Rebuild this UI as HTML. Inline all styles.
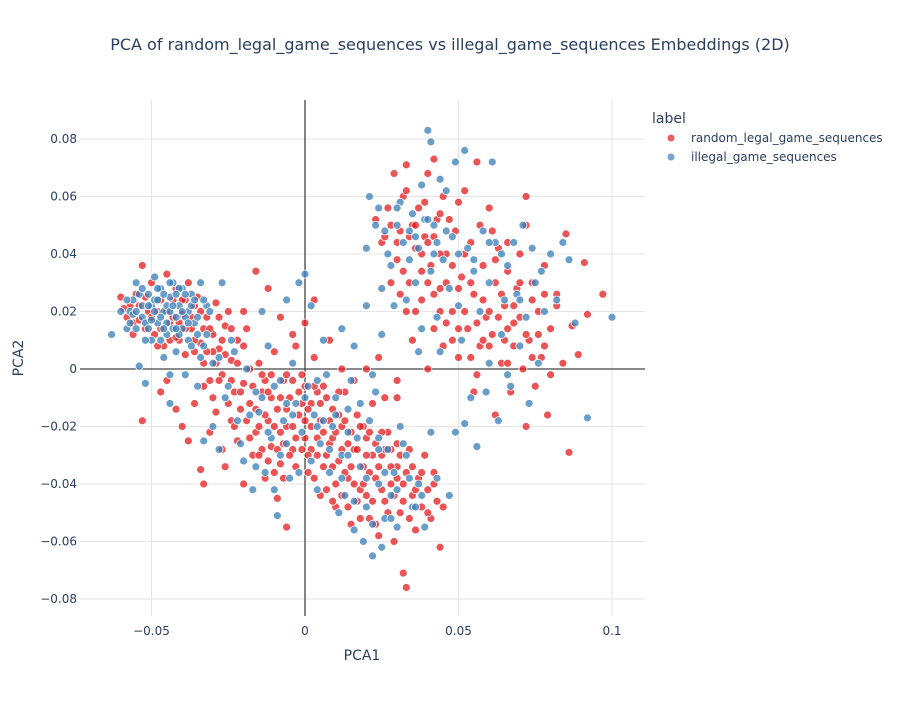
<!DOCTYPE html>
<html><head><meta charset="utf-8">
<style>
body{margin:0;background:#fff;}
svg text{font-family:"DejaVu Sans","Liberation Sans",sans-serif;fill:#2a3f5f;}
</style></head>
<body>
<svg id="chart" width="900" height="700" xmlns="http://www.w3.org/2000/svg">
<rect width="900" height="700" fill="#fff"/>
<text x="450" y="50" text-anchor="middle" font-size="16">PCA of random_legal_game_sequences vs illegal_game_sequences Embeddings (2D)</text>
<g id="grid"></g>
<g id="plot"></g>
<g id="axes"></g>
<text x="362" y="660" text-anchor="middle" font-size="14">PCA1</text>
<text x="23" y="358" text-anchor="middle" font-size="14" transform="rotate(-90 23 358)">PCA2</text>
<g>
<text x="652" y="123" font-size="14">label</text>
<g>
<circle cx="671" cy="138" r="3.5" fill="#E41A1C" fill-opacity="0.7"/>
<text x="691" y="142" font-size="12">random_legal_game_sequences</text></g>
<g>
<circle cx="671" cy="157" r="3.5" fill="#377EB8" fill-opacity="0.7"/>
<text x="691" y="161" font-size="12">illegal_game_sequences</text></g>
</g>
</svg>
<script>
// values in units of 0.001
const legalPts = [[-60,25],[-58,18],[-57,22],[-55,26],[-53,36],[-52,14],[-50,30],[-49,12],[-48,20],[-46,8],[-45,33],[-44,16],[-43,24],[-42,28],[-41,10],[-40,19],[-39,5],[-38,30],[-37,14],[-36,22],[-35,25],[-34,9],[-33,2],[-32,18],[-31,-4],[-30,12],[-29,23],[-28,7],[-27,-2],[-26,15],[-25,20],[-24,3],[-23,-8],[-22,10],[-53,-18],[-47,-8],[-45,-4],[-42,-14],[-40,-20],[-38,-25],[-36,-12],[-34,-35],[-33,-40],[-31,-22],[-29,-15],[-27,-28],[-26,-34],[-24,-18],[-22,-25],[-20,-5],[-19,14],[-18,-12],[-17,-30],[-16,-22],[-15,2],[-14,-8],[-13,-38],[-12,-18],[-11,-27],[-10,6],[-9,-14],[-9,-45],[-8,-33],[-7,-4],[-6,-20],[-5,-10],[-4,-28],[-3,8],[-2,-16],[-1,-2],[0,-24],[1,-36],[2,-12],[3,4],[4,-30],[5,-18],[6,-6],[7,-42],[8,-26],[9,-14],[10,-48],[11,-32],[12,-20],[13,-8],[14,-38],[15,-54],[16,-28],[17,-16],[18,-42],[19,-34],[20,-24],[21,-52],[22,-12],[23,-38],[24,-58],[25,-30],[26,-46],[27,-22],[28,-40],[29,-60],[30,-34],[31,-50],[32,-71],[33,-76],[34,-28],[35,-44],[36,-56],[37,-38],[38,-48],[39,-30],[40,-42],[41,-52],[42,-36],[44,-62],[45,-48],[-6,-55],[-20,-40],[-16,34],[-12,28],[-8,18],[-4,12],[0,16],[3,24],[8,10],[12,0],[16,-4],[20,0],[24,4],[26,-10],[30,-4],
[-56,16],[-54,22],[-51,20],[-47,24],[-44,10],[-41,16],[-39,24],[-36,6],[-33,14],[-30,6],[-27,10],[-24,-4],[-21,-14],[-18,0],[-15,-20],[-13,-4],[-11,-10],[-8,-22],[-6,-2],[-3,-24],[-1,-12],[2,-28],[4,-8],[6,-34],[9,-24],[11,-16],[14,-26],[17,-46],[19,-20],[22,-30],[25,-22],[28,-28],[32,-40],[35,-34],[-20,20],[-14,-28],[-10,-36],[10,-40],[20,-44],[30,-26],
[-59,21],[-56,12],[-54,17],[-52,25],[-50,18],[-48,8],[-47,14],[-45,20],[-43,18],[-42,11],[-40,24],[-39,14],[-37,18],[-36,10],[-34,20],[-33,-6],[-32,6],[-31,14],[-30,-10],[-29,2],[-28,18],[-28,-4],[-26,5],[-25,-12],[-24,14],[-23,-20],[-22,2],[-21,-8],[-20,8],[-19,-18],[-18,-24],[-17,-6],[-16,-14],[-15,-30],[-14,-2],[-13,-16],[-12,-8],[-12,-32],[-11,-2],[-10,-20],[-9,-28],[-8,-10],[-7,-26],[-7,-38],[-6,-14],[-5,-30],[-4,-4],[-4,-20],[-3,-34],[-2,-8],[-1,-28],[0,-18],[0,-6],[1,-14],[1,-30],[2,-20],[3,-6],[3,-38],[4,-24],[5,-12],[5,-44],[6,-22],[7,-30],[7,-10],[8,-18],[9,-34],[9,-46],[10,-22],[11,-8],[12,-28],[12,-44],[13,-36],[13,-18],[14,-48],[15,-22],[15,-34],[16,-40],[17,-28],[18,-20],[18,-52],[19,-40],[20,-30],[21,-36],[21,-22],[22,-46],[23,-26],[23,-54],[24,-34],[25,-42],[26,-28],[27,-50],[28,-34],[29,-44],[30,-38],[31,-30],[32,-46],[33,-36],[34,-52],[36,-42],[38,-36],[40,-50],[42,-40],[43,-46],
[23,52],[25,44],[27,56],[29,68],[30,38],[31,48],[32,60],[33,71],[34,30],[35,50],[36,42],[37,56],[38,24],[39,46],[40,68],[41,36],[42,73],[43,52],[44,28],[45,60],[46,40],[48,20],[49,48],[50,4],[51,32],[52,62],[53,14],[54,44],[55,26],[56,72],[57,8],[58,36],[59,18],[60,56],[61,12],[62,30],[63,42],[64,2],[65,22],[66,34],[67,-8],[68,16],[69,28],[70,40],[71,0],[72,60],[73,10],[74,24],[75,-6],[76,20],[77,4],[78,36],[79,-16],[80,14],[82,26],[84,2],[85,47],[86,-29],[87,15],[89,5],[91,37],[92,19],[97,26],[72,-20],[35,10],[30,-10],[40,0],[45,8],[33,20],[28,30],[55,-8],[62,-16],[80,-2],[82,22],[38,40],[42,46],[47,52],[52,20],[58,24],[63,18],[68,8],[74,30],
[26,46],[28,50],[30,44],[32,34],[34,46],[36,50],[38,34],[40,44],[42,26],[44,40],[46,30],[48,36],[50,28],[52,40],[54,30],[56,16],[58,10],[60,20],[62,38],[64,26],[66,14],[68,22],[70,30],[72,12],[74,4],[76,12],[78,26],[42,14],[36,20],[46,16],
[33,62],[39,58],[44,54],[50,58],[57,50],[61,48],[66,44],[72,50],[31,26],[40,30],[48,10],[54,4],[60,8],[65,10],[70,18],[56,-2],[66,2],[78,8],[44,20],[50,14]];
const illegalPts = [[-63,12],[-60,20],[-58,14],[-56,24],[-55,30],[-54,1],[-53,18],[-52,-5],[-51,26],[-50,10],[-50,22],[-49,32],[-48,16],[-47,28],[-46,4],[-46,20],[-45,12],[-44,25],[-44,-12],[-43,30],[-42,18],[-42,6],[-41,22],[-40,14],[-40,28],[-39,-2],[-38,20],[-38,10],[-37,26],[-36,16],[-35,-6],[-34,30],[-33,8],[-33,-25],[-32,22],[-30,-20],[-30,2],[-28,-28],[-27,30],[-26,-10],[-24,10],[-22,-18],[-20,-32],[-19,0],[-17,-42],[-15,-15],[-14,20],[-13,-36],[-12,8],[-11,-24],[-10,-6],[-9,-51],[-8,-30],[-7,-18],[-6,24],[-5,-38],[-4,2],[-3,-12],[-2,30],[-1,-22],[0,33],[1,-6],[2,22],[3,-16],[4,-42],[5,-26],[6,10],[7,-2],[8,-36],[9,-20],[10,-10],[11,-50],[12,-30],[13,-44],[14,-14],[15,-4],[16,-56],[17,-24],[18,-34],[19,-60],[20,-48],[21,-18],[22,-65],[23,-8],[24,-40],[25,-62],[26,-52],[27,-28],[28,-44],[29,-36],[30,-55],[31,-20],[33,-30],[35,-48],[37,-40],[39,-55],[41,-22],[43,-38],[47,-44],[49,-22],[20,22],[16,8],[12,14],[22,-2],[25,12],
[-57,20],[-54,26],[-52,16],[-49,24],[-47,18],[-45,22],[-43,14],[-41,28],[-39,18],[-37,22],[-35,12],[-48,28],[-52,10],[-44,-2],[-16,-8],[-6,-12],[4,-20],[14,-30],[24,-24],
[-58,24],[-56,19],[-55,14],[-53,22],[-53,28],[-51,14],[-50,17],[-49,20],[-48,24],[-47,10],[-46,26],[-45,16],[-44,20],[-43,22],[-42,26],[-41,12],[-40,20],[-39,26],[-38,16],[-37,8],[-36,24],[-35,18],[-34,4],[-33,24],[-32,12],[-31,20],[-46,14],[-44,30],[-42,14],[-51,22],[-55,20],[-57,16],
[-28,4],[-25,-6],[-23,6],[-21,-26],[-18,-16],[-16,-34],[-14,-10],[-12,-22],[-10,-42],[-8,-4],[-6,-26],[-4,-16],[-2,-36],[0,-10],[2,-32],[4,-4],[6,-18],[8,-28],[10,-16],[12,-38],[14,-22],[16,-46],[18,-12],[20,-38],[22,-54],[24,-28],[26,-36],[28,-52],[30,-42],[32,-26],[34,-38],[36,-48],[38,-44],
[20,42],[21,60],[23,50],[24,56],[25,28],[26,48],[27,40],[28,36],[29,22],[30,50],[31,58],[32,44],[33,24],[34,38],[35,54],[36,46],[37,6],[38,64],[39,52],[40,83],[41,79],[41,34],[42,50],[43,18],[44,66],[45,38],[46,62],[47,28],[48,46],[49,72],[50,22],[51,10],[52,76],[53,42],[54,-10],[55,34],[56,-27],[57,20],[58,48],[59,-8],[60,30],[61,72],[62,44],[63,-18],[64,12],[65,24],[66,36],[67,-6],[68,44],[69,26],[70,8],[71,50],[72,18],[73,-12],[74,42],[75,30],[76,2],[77,34],[78,20],[80,40],[82,24],[84,44],[86,38],[88,16],[92,-17],[100,18],[52,-19],[44,6],[38,14],[60,2],[66,-2],
[30,56],[34,48],[37,42],[40,52],[43,44],[46,48],[50,40],[55,38],[60,44],[64,40],[70,24],[36,30],[42,40]];
const xTicks = [-0.05, 0, 0.05, 0.1];
const xTickLabels = ["−0.05", "0", "0.05", "0.1"];
const yTicks = [-0.08, -0.06, -0.04, -0.02, 0, 0.02, 0.04, 0.06, 0.08];
const yTickLabels = ["−0.08", "−0.06", "−0.04", "−0.02", "0", "0.02", "0.04", "0.06", "0.08"];

const L = 80, R = 645, T = 100, B = 616;
const xScale = v => 305 + v * 3070;
const yScale = v => 369 - v * 2875;
const NS = "http://www.w3.org/2000/svg";
function mk(tag, attrs, parent){ const e = document.createElementNS(NS, tag); for (const k in attrs) e.setAttribute(k, attrs[k]); parent.appendChild(e); return e; }
const grid = document.getElementById('grid'), axes = document.getElementById('axes'), plot = document.getElementById('plot');

xTicks.forEach((t, i) => {
  const x = xScale(t);
  if (t !== 0) { const g = mk('line', {x1:x, x2:x, y1:T, y2:B, stroke:'#e5e5e5', 'stroke-width':1}, grid);
    
     }
  const tx = mk('text', {x:x, y:B + 19, 'text-anchor':'middle', 'font-size':12}, axes);
  tx.textContent = xTickLabels[i];
  
  
});
yTicks.forEach((t, i) => {
  const y = yScale(t);
  if (t !== 0) { const g = mk('line', {x1:L, x2:R, y1:y, y2:y, stroke:'#e5e5e5', 'stroke-width':1}, grid);
    
     }
  const tx = mk('text', {x:L - 3, y:y + 4, 'text-anchor':'end', 'font-size':12}, axes);
  tx.textContent = yTickLabels[i];
  
  
});
const zx = mk('line', {x1:xScale(0), x2:xScale(0), y1:T, y2:B, stroke:'#444', 'stroke-width':1.3}, grid);


const zy = mk('line', {x1:L, x2:R, y1:yScale(0), y2:yScale(0), stroke:'#444', 'stroke-width':1.3}, grid);



function drawSeries(pts, color, name){
  const g = mk('g', {}, plot);
  
  
  pts.forEach(p => {
    const c = mk('circle', {cx:xScale(p[0] / 1000), cy:yScale(p[1] / 1000), r:4, fill:color, 'fill-opacity':0.75, stroke:'#fff', 'stroke-width':0.8}, g);
    
    
  });
}
drawSeries(legalPts, '#E41A1C', 'legal');
drawSeries(illegalPts, '#377EB8', 'illegal');
</script>
</body></html>
